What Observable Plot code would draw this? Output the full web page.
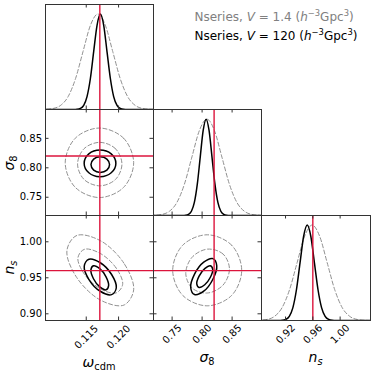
<!DOCTYPE html>
<html><head><meta charset="utf-8">
<script src="https://cdn.jsdelivr.net/npm/d3@7"></script>
<script src="https://cdn.jsdelivr.net/npm/@observablehq/plot@0.6"></script>
<style>
body{margin:0;background:#fff;}
#root{position:relative;width:374px;height:374px;overflow:hidden;font-family:"DejaVu Sans",sans-serif;background:#fff;}
#root svg{position:absolute;}
</style></head><body><div id="root"></div>
<script>
// ---------------- data ----------------
const omegaTicks = [0.115, 0.120];
const sigma8Ticks = [0.75, 0.80, 0.85];
const nsTicksY = [0.90, 0.95, 1.00];
const nsTicksX = [0.92, 0.96, 1.00];
const omegaTrue = 0.1171, sigma8True = 0.82, nsTrue = 0.96;
const omegaDomain = [0.1087, 0.1254];
const sigma8Domain = [0.719, 0.899];
const nsRowDomain = [0.8907, 1.0365];
const nsColDomain = [0.8848, 1.0445];
const pdfDomain = [0, 1.1];

// 1D marginal posteriors (normalised height)
const pdfShape = [0, 0.0003, 0.0022, 0.0111, 0.0439, 0.1353, 0.3247, 0.6065, 0.8825, 1, 0.8825, 0.6065, 0.3247, 0.1353, 0.0439, 0.0111, 0.0022, 0.0003, 0];
const omegaSolidX = [0.100, 0.11306, 0.11358, 0.11409, 0.11461, 0.11512, 0.11564, 0.11615, 0.11667, 0.11718, 0.11770, 0.11821, 0.11873, 0.11924, 0.11976, 0.12027, 0.12079, 0.12130, 0.135];
const omegaDashedX = [0.100, 0.1076, 0.10875, 0.1099, 0.11105, 0.1122, 0.11335, 0.1145, 0.11565, 0.1168, 0.11795, 0.1191, 0.12025, 0.1214, 0.12255, 0.1237, 0.12485, 0.126, 0.135];
const sigma8SolidX = [0.65, 0.7675, 0.7724, 0.7773, 0.7822, 0.7871, 0.7920, 0.7969, 0.8018, 0.8067, 0.8116, 0.8165, 0.8214, 0.8263, 0.8312, 0.8361, 0.8410, 0.8459, 0.97];
const sigma8DashedX = [0.65, 0.708, 0.7205, 0.733, 0.7455, 0.758, 0.7705, 0.783, 0.7955, 0.808, 0.8205, 0.833, 0.8455, 0.858, 0.8705, 0.883, 0.8955, 0.908, 0.97];
const nsSolidX = [0.85, 0.9098, 0.91505, 0.9203, 0.92555, 0.9308, 0.93605, 0.9413, 0.94655, 0.9518, 0.95705, 0.9623, 0.96755, 0.9728, 0.97805, 0.9833, 0.98855, 0.9938, 1.08];
const nsDashedX = [0.85, 0.871, 0.882, 0.893, 0.904, 0.915, 0.926, 0.937, 0.948, 0.959, 0.970, 0.981, 0.992, 1.003, 1.014, 1.025, 1.036, 1.047, 1.08];

// 2D contours [x, y]
const omS8Solid1 = [[0.11861,0.8054],[0.11819,0.8148],[0.11717,0.8187],[0.11615,0.8148],[0.11573,0.8054],[0.11615,0.7960],[0.11717,0.7921],[0.11819,0.7960]];
const omS8Solid2 = [[0.11958,0.8075],[0.11886,0.8236],[0.11713,0.8302],[0.11540,0.8236],[0.11468,0.8075],[0.11540,0.7915],[0.11713,0.7848],[0.11886,0.7915]];
const omS8Dashed1 = [[0.12052,0.8063],[0.11952,0.8324],[0.11709,0.8432],[0.11466,0.8324],[0.11366,0.8063],[0.11466,0.7802],[0.11709,0.7694],[0.11952,0.7802]];
const omS8Dashed2 = [[0.12233,0.8085],[0.12078,0.8502],[0.11704,0.8675],[0.11330,0.8502],[0.11175,0.8085],[0.11330,0.7668],[0.11704,0.7495],[0.12078,0.7668]];

const omNsSolid1 = [[0.11846,0.9391],[0.11806,0.9513],[0.11709,0.9627],[0.11612,0.9667],[0.11572,0.9609],[0.11612,0.9487],[0.11709,0.9373],[0.11806,0.9333]];
const omNsSolid2 = [[0.11965,0.9362],[0.11892,0.9546],[0.11717,0.9709],[0.11542,0.9757],[0.11469,0.9660],[0.11542,0.9476],[0.11717,0.9313],[0.11892,0.9266]];
const omNsDashed1 = [[0.12063,0.9409],[0.11962,0.9636],[0.11717,0.9838],[0.11472,0.9896],[0.11371,0.9777],[0.11472,0.9550],[0.11717,0.9348],[0.11962,0.9290]];
const omNsDashed2 = [[0.12233,0.9333],[0.12082,0.9703],[0.11717,1.0016],[0.11352,1.0087],[0.11201,0.9875],[0.11352,0.9505],[0.11717,0.9192],[0.12082,0.9121]];

const s8NsSolid1 = [[0.8177,0.9617],[0.8138,0.9667],[0.8044,0.9628],[0.7950,0.9524],[0.7911,0.9415],[0.7950,0.9365],[0.8044,0.9404],[0.8138,0.9508]];
const s8NsSolid2 = [[0.8244,0.9667],[0.8180,0.9766],[0.8027,0.9718],[0.7874,0.9552],[0.7810,0.9365],[0.7874,0.9267],[0.8027,0.9314],[0.8180,0.9480]];
const s8NsDashed1 = [[0.8456,0.9624],[0.8349,0.9830],[0.8092,0.9898],[0.7835,0.9787],[0.7728,0.9562],[0.7835,0.9356],[0.8092,0.9289],[0.8349,0.9399]];
const s8NsDashed2 = [[0.8660,0.9604],[0.8492,0.9953],[0.8085,1.0097],[0.7678,0.9953],[0.7510,0.9604],[0.7678,0.9255],[0.8085,0.9111],[0.8492,0.9255]];

// ---------------- drawing ----------------
const root = document.getElementById("root");
const cols = [{x:45,w:108},{x:153,w:108},{x:261,w:109}];
const rows = [{y:4,h:105},{y:109,h:106},{y:215,h:105}];
const TICK = 3.5;
const fmt2 = d3.format(".2f"), fmt3 = d3.format(".3f");
const SOLID = {stroke: "black", strokeWidth: 1.5, clip: true};
const DASHED = {stroke: "#909090", strokeWidth: 1, strokeDasharray: "4,2.4", clip: true};
const RED = {stroke: "crimson", strokeWidth: 1.4};

function innerTicks(w, h, xt, yt) {
  const o = {stroke: "#333", strokeWidth: 1};
  const m = [];
  if (xt) m.push(Plot.tickX(xt, {x: d => d, insetTop: h - TICK, ...o}), Plot.tickX(xt, {x: d => d, insetBottom: h - TICK, ...o}));
  if (yt) m.push(Plot.tickY(yt, {y: d => d, insetRight: w - TICK, ...o}), Plot.tickY(yt, {y: d => d, insetLeft: w - TICK, ...o}));
  return m;
}

function panel(c, r, xDomain, yDomain, xt, yt, marks, xLab, yFmt) {
  const {x, w} = cols[c], {y, h} = rows[r];
  const mL = 45, mT = 4, mR = 4, mB = 54;
  const labels = [];
  if (yFmt) labels.push(Plot.text(yt, {y: d => d, frameAnchor: "left", dx: -3.5, textAnchor: "end", text: d => yFmt(d), fill: "black"}));
  if (xLab) labels.push(Plot.text(xt, {x: d => d, frameAnchor: "bottom", dy: xLab.dy, rotate: -45, textAnchor: "middle", lineAnchor: "middle", text: d => xLab.fmt(d), fill: "black"}));
  const p = Plot.plot({
    width: w + mL + mR, height: h + mT + mB,
    marginLeft: mL, marginTop: mT, marginRight: mR, marginBottom: mB,
    x: {domain: xDomain, axis: null},
    y: {domain: yDomain, axis: null},
    style: {fontFamily: "DejaVu Sans", fontSize: "10px", background: "transparent", color: "black"},
    marks: [
      ...marks,
      ...innerTicks(w, h, xt, r === c ? null : yt),
      Plot.frame({stroke: "#333", strokeWidth: 1}),
      ...labels
    ]
  });
  p.style.left = (x - mL) + "px";
  p.style.top = (y - mT) + "px";
  root.appendChild(p);
}

function pdfMarks(xs, xd, truth) {
  return [
    Plot.line(pdfShape, {x: xd, y: pdfShape, curve: "monotone-x", ...DASHED}),
    Plot.line(pdfShape, {x: xs, y: pdfShape, curve: "monotone-x", ...SOLID}),
    Plot.ruleX([truth], RED)
  ];
}
function contourMarks(list, tx, ty) {
  const cm = [];
  list.forEach(([data, style]) => cm.push(Plot.line(data, {x: d => d[0], y: d => d[1], curve: "catmull-rom-closed", ...style})));
  cm.push(Plot.ruleX([tx], RED), Plot.ruleY([ty], RED));
  return cm;
}

// row 1
panel(0, 0, omegaDomain, pdfDomain, omegaTicks, null, pdfMarks(omegaSolidX, omegaDashedX, omegaTrue));
// row 2
panel(0, 1, omegaDomain, sigma8Domain, omegaTicks, sigma8Ticks,
  contourMarks([[omS8Dashed2, DASHED], [omS8Dashed1, DASHED], [omS8Solid2, SOLID], [omS8Solid1, SOLID]], omegaTrue, sigma8True),
  null, fmt2);
panel(1, 1, sigma8Domain, pdfDomain, sigma8Ticks, null, pdfMarks(sigma8SolidX, sigma8DashedX, sigma8True));
// row 3
panel(0, 2, omegaDomain, nsRowDomain, omegaTicks, nsTicksY,
  contourMarks([[omNsDashed2, DASHED], [omNsDashed1, DASHED], [omNsSolid2, SOLID], [omNsSolid1, SOLID]], omegaTrue, nsTrue),
  {fmt: fmt3, dy: 16.5}, fmt2);
panel(1, 2, sigma8Domain, nsRowDomain, sigma8Ticks, nsTicksY,
  contourMarks([[s8NsDashed2, DASHED], [s8NsDashed1, DASHED], [s8NsSolid2, SOLID], [s8NsSolid1, SOLID]], sigma8True, nsTrue),
  {fmt: fmt2, dy: 13.5}, null);
panel(2, 2, nsColDomain, pdfDomain, nsTicksX, null, pdfMarks(nsSolidX, nsDashedX, nsTrue), {fmt: fmt2, dy: 13.5});

// ---------------- labels & legend ----------------
const overlay = d3.select(root).append("svg").attr("width", 374).attr("height", 374)
  .style("left", "0px").style("top", "0px").style("overflow", "visible");

function richText(x, y, segs, {size, anchor = "start", fill = "black", rotate = 0}) {
  const t = overlay.append("text")
    .attr("transform", `translate(${x},${y}) rotate(${rotate})`)
    .attr("text-anchor", anchor).attr("font-size", size).attr("fill", fill)
    .attr("font-family", "DejaVu Sans");
  let cur = 0;
  for (const s of segs) {
    const shift = s.shift || 0;
    const ts = t.append("tspan").text(s.t).attr("dy", shift - cur);
    cur = shift;
    if (s.italic) ts.attr("font-style", "italic");
    if (s.scale) ts.attr("font-size", size * s.scale);
  }
}

const AX = 14;
richText(99, 366.5, [{t: "ω", italic: true}, {t: "cdm", shift: 3, scale: 0.7}], {size: AX, anchor: "middle"});
richText(207, 361.7, [{t: "σ", italic: true}, {t: "8", shift: 3, scale: 0.7}], {size: AX, anchor: "middle"});
richText(315.5, 361.7, [{t: "n", italic: true}, {t: "s", italic: true, shift: 3, scale: 0.7}], {size: AX, anchor: "middle"});
richText(14.3, 163, [{t: "σ", italic: true}, {t: "8", shift: 3, scale: 0.7}], {size: AX, anchor: "middle", rotate: -90});
richText(14.3, 267.5, [{t: "n", italic: true}, {t: "s", italic: true, shift: 3, scale: 0.7}], {size: AX, anchor: "middle", rotate: -90});

const legendRows = [
  {fill: "#808080", vol: "1.4", y: 20.5},
  {fill: "black", vol: "120", y: 39.5}
];
legendRows.forEach(l => richText(194.5, l.y, [
  {t: "Nseries, "}, {t: "V", italic: true}, {t: " = " + l.vol + " ("}, {t: "h", italic: true},
  {t: "−3", shift: -4.8, scale: 0.7}, {t: "Gpc"}, {t: "3", shift: -4.8, scale: 0.7}, {t: ")"}
], {size: 12, fill: l.fill}));
</script>
</body></html>
